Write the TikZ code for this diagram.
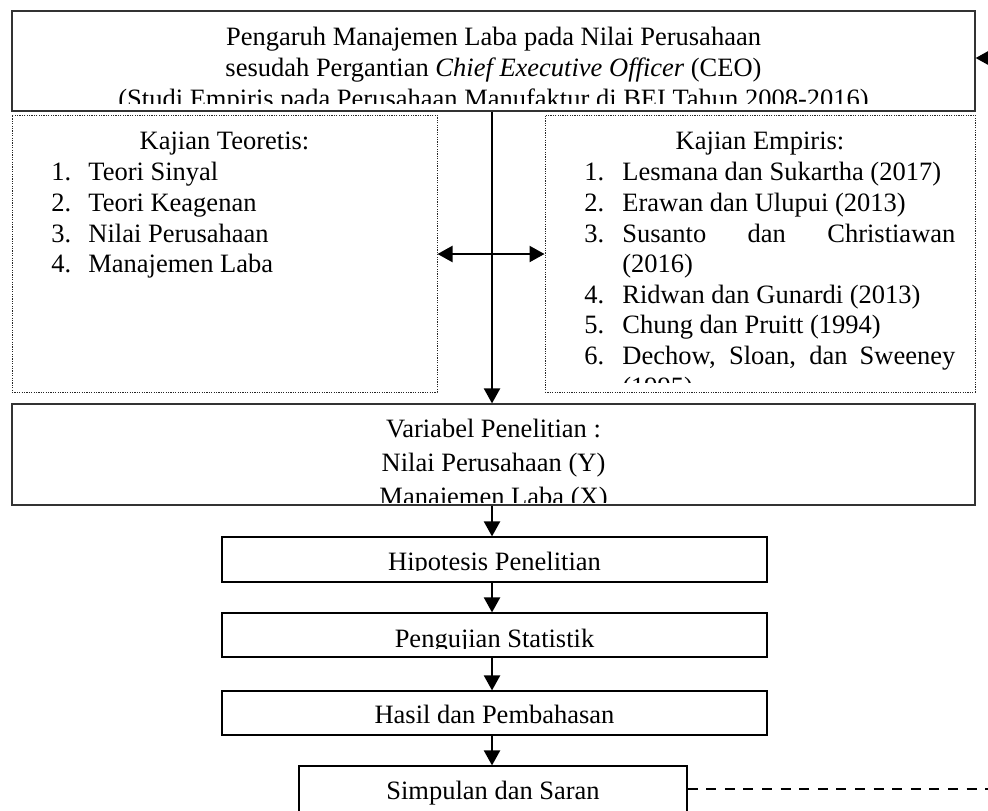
\documentclass[tikz,border=0pt]{standalone}
\usepackage{fontspec}
\setmainfont{Liberation Serif}
\usetikzlibrary{arrows.meta}
\newcommand\myfs{\fontsize{13.25pt}{15.5pt}\selectfont}
\begin{document}
\begin{tikzpicture}[x=0.5pt,y=-0.5pt,
  txt/.style={anchor=base,inner sep=0pt,font=\myfs},
  ltxt/.style={anchor=base west,inner sep=0pt,font=\myfs},
  solidbox/.style={draw=black!80,line width=0.6pt,inner sep=0pt},
  dotbox/.style={draw=black!85,line width=0.5pt,dash pattern=on 0.6pt off 0.6pt,inner sep=0pt},
  arr/.style={line width=1.1pt,-{Triangle[length=7.5pt,width=8pt]}},
  darr/.style={line width=1.1pt,{Triangle[length=7.5pt,width=8pt]}-{Triangle[length=7.5pt,width=8pt]}},
  fbline/.style={line width=1.1pt,dash pattern=on 5pt off 4.3pt}]
\clip (0,0) rectangle (988,810);
\fill[white] (0,0) rectangle (988,810);

% boxes
\node[solidbox, minimum width=481.5pt, minimum height=50pt] (top) at (493.5,61) {};
\node[dotbox, minimum width=212.5pt, minimum height=138.5pt] (teo) at (224.5,253.5) {};
\node[dotbox, minimum width=215pt, minimum height=138.5pt] (emp) at (760,253.5) {};
\node[solidbox, minimum width=481.5pt, minimum height=50.5pt] (var) at (493.5,454.5) {};
\node[solidbox, draw=black, minimum width=272.5pt, minimum height=22.5pt] (hip) at (494.5,559.5) {};
\node[solidbox, draw=black, minimum width=272.5pt, minimum height=22pt] (uji) at (494.5,635) {};
\node[solidbox, draw=black, minimum width=272.5pt, minimum height=22pt] (has) at (494.5,713) {};
\node[solidbox, draw=black, minimum width=194pt, minimum height=32pt] (sim) at (493,798) {};

% top box text
\begin{scope}
\clip (12,11) rectangle (975,103);
\node[txt] (ta) at (493.5,45) {Pengaruh Manajemen Laba pada Nilai Perusahaan};
\node[txt] (tb) at (493.5,76) {sesudah Pergantian \textit{Chief Executive Officer} (CEO)};
\node[txt] (tc) at (493.5,107) {(Studi Empiris pada Perusahaan Manufaktur di BEI Tahun 2008-2016)};
\end{scope}

% left list
\node[txt] (kt) at (224.5,149) {Kajian Teoretis:};
\node[ltxt] (ln1) at (51,180) {1.}; \node[ltxt] (li1) at (88,180) {Teori Sinyal};
\node[ltxt] (ln2) at (51,211) {2.}; \node[ltxt] (li2) at (88,211) {Teori Keagenan};
\node[ltxt] (ln3) at (51,242) {3.}; \node[ltxt] (li3) at (88,242) {Nilai Perusahaan};
\node[ltxt] (ln4) at (51,272) {4.}; \node[ltxt] (li4) at (88,272) {Manajemen Laba};

% right list
\begin{scope}
\clip (545,115) rectangle (975,382);
\node[txt] (ke) at (760,149) {Kajian Empiris:};
\node[ltxt] (rn1) at (584,180) {1.}; \node[ltxt] (ri1) at (622,180) {Lesmana dan Sukartha (2017)};
\node[ltxt] (rn2) at (584,211) {2.}; \node[ltxt] (ri2) at (622,211) {Erawan dan Ulupui (2013)};
\node[ltxt] (rn3) at (584,242) {3.}; \node[ltxt] (ri3) at (622,242) {\makebox[166.5pt][s]{Susanto dan Christiawan}};
\node[ltxt] (ri3b) at (622,272) {(2016)};
\node[ltxt] (rn4) at (584,303) {4.}; \node[ltxt] (ri4) at (622,303) {Ridwan dan Gunardi (2013)};
\node[ltxt] (rn5) at (584,333) {5.}; \node[ltxt] (ri5) at (622,333) {Chung dan Pruitt (1994)};
\node[ltxt] (rn6) at (584,364) {6.}; \node[ltxt] (ri6) at (622,364) {\makebox[166.5pt][s]{Dechow, Sloan, dan Sweeney}};
\node[ltxt] (ri6b) at (622,395) {(1995)};
\end{scope}

% variabel text
\begin{scope}
\clip (12,404) rectangle (975,502);
\node[txt] (va) at (493.5,437) {Variabel Penelitian :};
\node[txt] (vb) at (493.5,471) {Nilai Perusahaan (Y)};
\node[txt] (vc) at (493.5,505) {Manajemen Laba (X)};
\end{scope}

\begin{scope}
\clip (222,537) rectangle (767,570.5);
\node[txt] (hipt) at (494.5,570) {Hipotesis Penelitian};
\end{scope}
\begin{scope}
\clip (222,613) rectangle (767,648);
\node[txt] (ujit) at (494.5,647.5) {Pengujian Statistik};
\end{scope}
\node[txt] (hast) at (494.5,723) {Hasil dan Pembahasan};
\node[txt] (simt) at (493,799) {Simpulan dan Saran};

% connectors
\coordinate (xv) at (492,0);
\coordinate (hy) at (0,254);
\coordinate (fb) at (1010,58);
\coordinate (fd) at (1010,789);
\draw[arr] (top.south -| xv) -- (var.north -| xv);
\draw[darr] (teo.east |- hy) -- (emp.west |- hy);
\draw[arr] (var.south -| xv) -- (hip.north -| xv);
\draw[arr] (hip.south -| xv) -- (uji.north -| xv);
\draw[arr] (uji.south -| xv) -- (has.north -| xv);
\draw[arr] (has.south -| xv) -- (sim.north -| xv);
\draw[arr] (fb) -- (top.east |- fb);
\draw[fbline] (sim.east |- fd) -- (fd);
\end{tikzpicture}
\end{document}
